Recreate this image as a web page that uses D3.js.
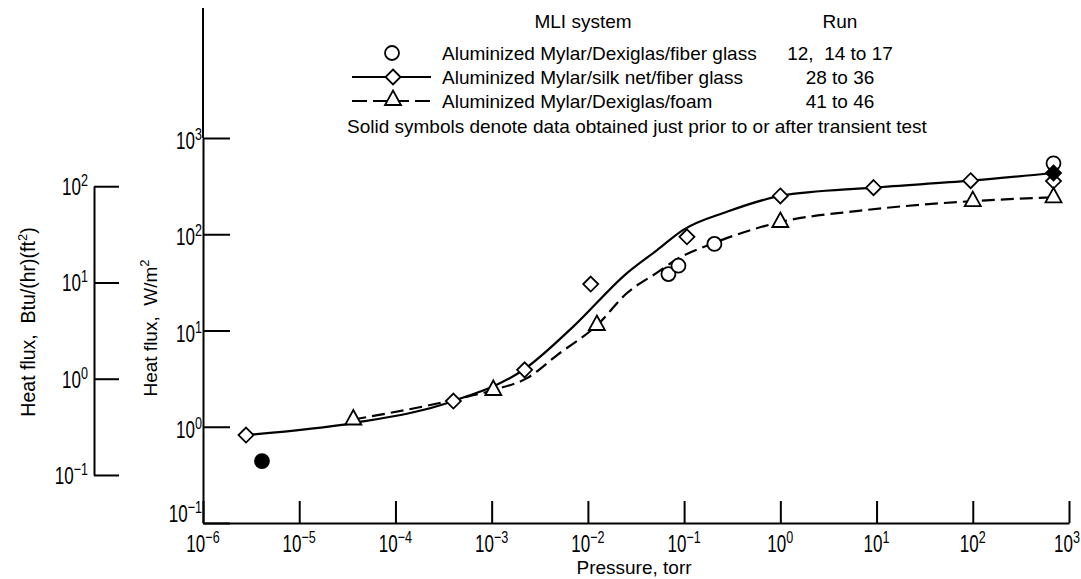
<!DOCTYPE html>
<html><head><meta charset="utf-8">
<script src="https://cdn.jsdelivr.net/npm/d3@7"></script>
<style>
body{margin:0;background:#fff;}
svg{display:block;background:#fff;}
text{font-family:"Liberation Sans",Arial,sans-serif;fill:#000;white-space:pre;}
</style></head><body>
<svg id="chart" width="1081" height="579"></svg>
<script>
// ---------- data ----------
const BTU_TO_W = 3.1546;
const xTickExps = [-6, -5, -4, -3, -2, -1, 0, 1, 2, 3];
const yTickExps = [-1, 0, 1, 2, 3];
const btuTickExps = [-1, 0, 1, 2];

// Aluminized Mylar/Dexiglas/fiber glass (circles)
const fiberGlassP = [0.0687, 0.0873, 0.2065, 690];
const fiberGlassQ = [38.6, 47.1, 79.3, 546];
const fiberGlassSolidP = [4.1e-6];
const fiberGlassSolidQ = [0.44];

// Aluminized Mylar/silk net/fiber glass (diamonds)
const silkNetP = [2.8e-6, 4.0e-4, 2.2e-3, 0.0107, 0.107, 1.0, 9.3, 95, 690];
const silkNetQ = [0.82, 1.85, 3.9, 30.4, 94, 250, 305, 360, 357];
const silkNetSolidP = [690];
const silkNetSolidQ = [433];

// Aluminized Mylar/Dexiglas/foam (triangles)
const foamP = [3.65e-5, 1.04e-3, 0.0124, 1.0, 100, 690];
const foamQ = [1.19, 2.41, 11.4, 134, 221, 242];

// faired curves
const silkNetCurveP = [2.8e-6, 3.6e-5, 4.0e-4, 2.2e-3, 7.0e-3, 0.0255, 0.0524, 0.098, 0.278, 1.0, 9.3, 95, 690];
const silkNetCurveQ = [0.82, 1.09, 1.85, 3.98, 10.9, 39.5, 68.5, 111, 171, 250, 305, 360, 433];
const foamCurveP = [3.65e-5, 4.0e-4, 1.04e-3, 2.33e-3, 4.8e-3, 0.0125, 0.0255, 0.0537, 0.084, 0.2, 1.0, 6.8, 100, 690];
const foamCurveQ = [1.19, 1.9, 2.41, 3.2, 5.56, 11.4, 24.5, 40.6, 55, 80.5, 134, 176, 221, 242];

const legendSystems = ["Aluminized Mylar/Dexiglas/fiber glass", "Aluminized Mylar/silk net/fiber glass", "Aluminized Mylar/Dexiglas/foam"];
const legendRuns = ["12,  14 to 17", "28 to 36", "41 to 46"];
const legendHeader = ["MLI system", "Run"];
const noteText = "Solid symbols denote data obtained just prior to or after transient test";
const xTitle = "Pressure, torr";

// ---------- scales ----------
const svg = d3.select("#chart");
const x = d3.scaleLog().domain([1e-6, 1e3]).range([203, 1069]);
const y = d3.scaleLog().domain([0.1, 1000]).range([523, 138]);
const yBtu = d3.scaleLog().domain([0.1, 100]).range([y(0.1 * BTU_TO_W), y(100 * BTU_TO_W)]);

const zip = (a, b) => a.map((v, i) => [v, b[i]]);

// ---------- axes ----------
function styleAxis(g) {
  g.selectAll("path.domain").attr("stroke", "#000").attr("stroke-width", 2);
  g.selectAll(".tick line").attr("stroke", "#000").attr("stroke-width", 2);
}
svg.append("g").attr("transform", "translate(0,523)")
  .call(d3.axisBottom(x).tickValues(xTickExps.map(e => Math.pow(10, e))).tickSize(-22).tickSizeOuter(0).tickFormat(""))
  .call(styleAxis);
svg.append("g").attr("transform", "translate(203,0)")
  .call(d3.axisLeft(y).tickValues(yTickExps.map(e => Math.pow(10, e))).tickSize(-27).tickSizeOuter(0).tickFormat(""))
  .call(styleAxis);
svg.append("line").attr("x1", 203).attr("x2", 203).attr("y1", 8).attr("y2", y(1000))
  .attr("stroke", "#000").attr("stroke-width", 2);
svg.append("g").attr("transform", "translate(94,0)")
  .call(d3.axisLeft(yBtu).tickValues(btuTickExps.map(e => Math.pow(10, e))).tickSize(-25).tickSizeOuter(0).tickFormat(""))
  .call(styleAxis);

// power-of-ten labels, drawn in a horizontally condensed face
const SQUEEZE = 0.74;
function powLabel(px, py, exp, anchor) {
  const g = svg.append("g").attr("transform", `translate(${px},${py}) scale(${SQUEEZE},1)`);
  const t = g.append("text").attr("x", 0).attr("y", 0)
    .attr("text-anchor", anchor).style("font-size", "23px");
  t.append("tspan").text("10");
  t.append("tspan").attr("dy", -9).style("font-size", "17px").text(String(exp).replace("-", "\u2212"));
  const bb = g.node().getBoundingClientRect();
  if (bb.right > 1080) g.attr("transform", `translate(${px - (bb.right - 1080)},${py}) scale(${SQUEEZE},1)`);
}
xTickExps.forEach(e => powLabel(x(Math.pow(10, e)), 552, e, "middle"));
yTickExps.forEach(e => {
  const ty = y(Math.pow(10, e));
  powLabel(202, e === yTickExps[0] ? ty - 1 : ty + 11, e, "end");
});
btuTickExps.forEach(e => powLabel(88, yBtu(Math.pow(10, e)) + 9, e, "end"));

// axis titles
svg.append("text").attr("x", 634).attr("y", 574).attr("text-anchor", "middle")
  .style("font-size", "19px").text(xTitle);
const tW = svg.append("text").attr("transform", "translate(157,328) rotate(-90)")
  .attr("text-anchor", "middle").style("font-size", "19px");
tW.append("tspan").text("Heat flux,  W/m");
tW.append("tspan").attr("dy", -8).style("font-size", "13px").text("2");
const tB = svg.append("text").attr("transform", "translate(35,322) rotate(-90)")
  .attr("text-anchor", "middle").style("font-size", "19.5px");
tB.append("tspan").text("Heat flux,  Btu/(hr)(ft");
tB.append("tspan").attr("dy", -8).style("font-size", "13px").text("2");
tB.append("tspan").attr("dy", 8).text(")");

// ---------- curves ----------
const line = d3.line().x(d => x(d[0])).y(d => y(d[1])).curve(d3.curveMonotoneX);
svg.append("path").datum(zip(silkNetCurveP, silkNetCurveQ)).attr("d", line)
  .attr("fill", "none").attr("stroke", "#000").attr("stroke-width", 2.2);
svg.append("path").datum(zip(foamCurveP, foamCurveQ)).attr("d", line)
  .attr("fill", "none").attr("stroke", "#000").attr("stroke-width", 2.2).attr("stroke-dasharray", "13,6");

// ---------- markers ----------
const diamondPath = "M0,-7.5L7.5,0L0,7.5L-7.5,0Z";
const trianglePath = "M0,-9.5L8,5L-8,5Z";
function drawMarks(P, Q, kind, filled) {
  const g = svg.append("g");
  zip(P, Q).forEach(d => {
    const cx = x(d[0]), cy = y(d[1]);
    let m;
    if (kind === "circle") m = g.append("circle").attr("cx", cx).attr("cy", cy).attr("r", 7);
    else m = g.append("path").attr("d", kind === "diamond" ? diamondPath : trianglePath)
      .attr("transform", `translate(${cx},${cy})`);
    m.attr("fill", filled ? "#000" : "#fff").attr("stroke", "#000").attr("stroke-width", 1.8);
  });
}
drawMarks(silkNetP, silkNetQ, "diamond", false);
drawMarks(foamP, foamQ, "triangle", false);
drawMarks(fiberGlassP, fiberGlassQ, "circle", false);
drawMarks(fiberGlassSolidP, fiberGlassSolidQ, "circle", true);
drawMarks(silkNetSolidP, silkNetSolidQ, "diamond", true);

// ---------- legend ----------
const lg = svg.append("g");
lg.append("text").attr("x", 583).attr("y", 28).attr("text-anchor", "middle").style("font-size", "19px").text(legendHeader[0]);
lg.append("text").attr("x", 840).attr("y", 28).attr("text-anchor", "middle").style("font-size", "19px").text(legendHeader[1]);
const rowY = [53, 77, 101];
legendSystems.forEach((s, i) => {
  lg.append("text").attr("x", 442).attr("y", rowY[i] + 7).style("font-size", "19px").text(s);
  lg.append("text").attr("x", 840).attr("y", rowY[i] + 7).attr("text-anchor", "middle").style("font-size", "19px").text(legendRuns[i]);
});
lg.append("circle").attr("cx", 392).attr("cy", rowY[0]).attr("r", 7).attr("fill", "#fff").attr("stroke", "#000").attr("stroke-width", 1.8);
lg.append("line").attr("x1", 352).attr("x2", 431).attr("y1", rowY[1]).attr("y2", rowY[1]).attr("stroke", "#000").attr("stroke-width", 2);
lg.append("path").attr("d", diamondPath).attr("transform", `translate(393,${rowY[1]})`).attr("fill", "#fff").attr("stroke", "#000").attr("stroke-width", 1.8);
lg.append("line").attr("x1", 352).attr("x2", 431).attr("y1", rowY[2]).attr("y2", rowY[2]).attr("stroke", "#000").attr("stroke-width", 2).attr("stroke-dasharray", "15,6");
lg.append("path").attr("d", trianglePath).attr("transform", `translate(393,${rowY[2] - 1})`).attr("fill", "#fff").attr("stroke", "#000").attr("stroke-width", 1.8);
lg.append("text").attr("x", 347).attr("y", 133).style("font-size", "19px").text(noteText);
</script>
</body></html>
